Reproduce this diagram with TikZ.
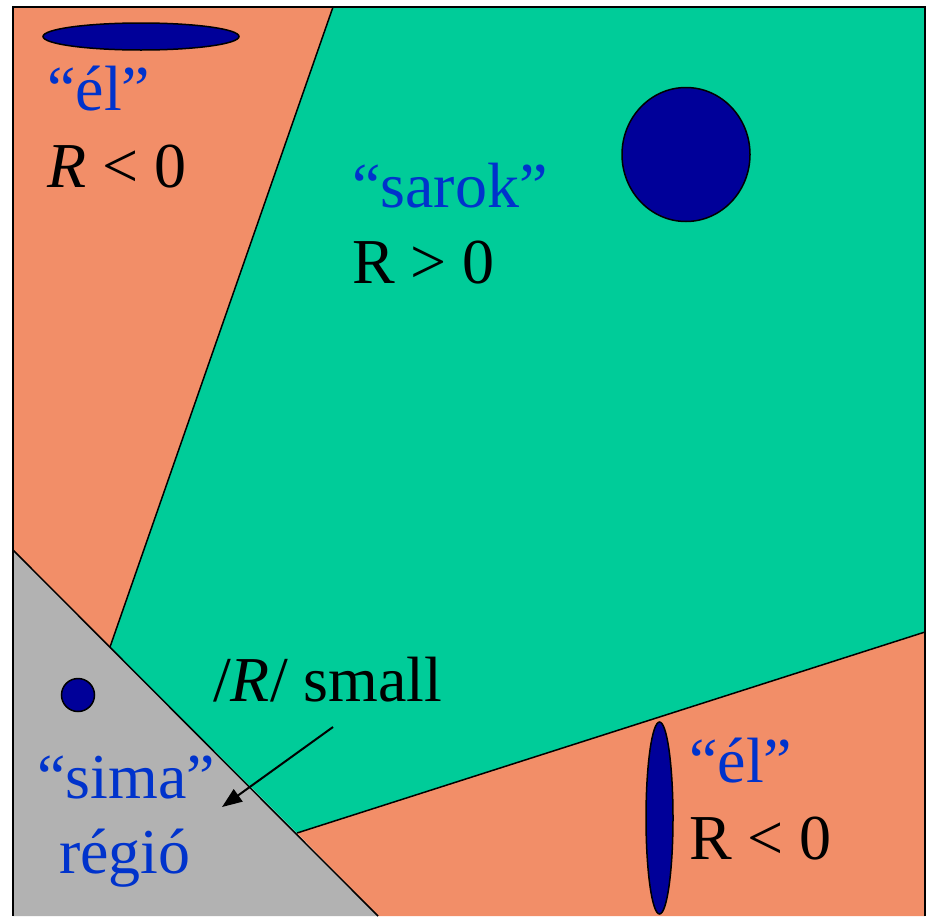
\documentclass[tikz,border=0pt]{standalone}
\usepackage{fontspec}
\setmainfont{Liberation Serif}
\usetikzlibrary{arrows.meta}
\definecolor{orng}{HTML}{F28E68}
\definecolor{grn}{HTML}{00CC99}
\definecolor{gry}{HTML}{B2B2B2}
\definecolor{dblue}{HTML}{000099}
\definecolor{tblue}{HTML}{0033CC}
\tikzset{
  region/.style={draw=black, line width=1.5pt, line join=miter},
  blob/.style={fill=dblue, draw=black, line width=1.5pt},
  lbl/.style={inner sep=0pt, anchor=base west, font=\fontsize{64}{76}\selectfont},
  bluelbl/.style={lbl, text=tblue},
  blacklbl/.style={lbl, text=black},
  pointer/.style={draw=black, line width=2pt, -{Triangle[length=20pt,width=15pt]}}
}
\begin{document}
\begin{tikzpicture}[x=1pt,y=-1pt]
\useasboundingbox (0,0) rectangle (928,916);
% regions
\fill[orng] (13,7) -- (333,7) -- (110,647) -- (13,550) -- cycle;
\fill[grn] (333,7) -- (925,7) -- (925,632) -- (297,833) -- (110,647) -- cycle;
\fill[orng] (297,833) -- (925,632) -- (925,916) -- (378,916) -- cycle;
\fill[gry] (13,550) -- (378,916) -- (13,916) -- cycle;
% boundaries
\draw[region] (13,916) -- (13,7) -- (925,7) -- (925,916);
\draw[region] (333,7) -- (110,647);
\draw[region] (13,550) -- (378,916);
\draw[region] (297,833) -- (925,632);
% blobs
\draw[blob] (141,36.5) ellipse [x radius=98, y radius=13.5];
\draw[blob] (686,154.5) ellipse [x radius=64, y radius=67];
\draw[blob] (78,695) circle [radius=16.5];
\draw[blob] (659.5,818) ellipse [x radius=13.5, y radius=96];
% labels
\node[bluelbl] (el1) at (47,110) {“él”};
\node[blacklbl] (r1) at (47,187) {\textit{R} < 0};
\node[bluelbl] (sarok) at (352,207) {“sarok”};
\node[blacklbl] (r2) at (352,283) {R > 0};
\node[blacklbl] (small) at (213,701) {/\textit{R}/ small};
\node[bluelbl] (sima) at (37,798) {“sima”};
\node[bluelbl] (regio) at (59,873) {régió};
\node[bluelbl] (el2) at (689,782) {“él”};
\node[blacklbl] (r3) at (689,859) {R < 0};
% arrow
\coordinate (as) at (333,727);
\coordinate (ae) at (222,807);
\draw[pointer] (as) -- (ae);
\end{tikzpicture}
\end{document}
